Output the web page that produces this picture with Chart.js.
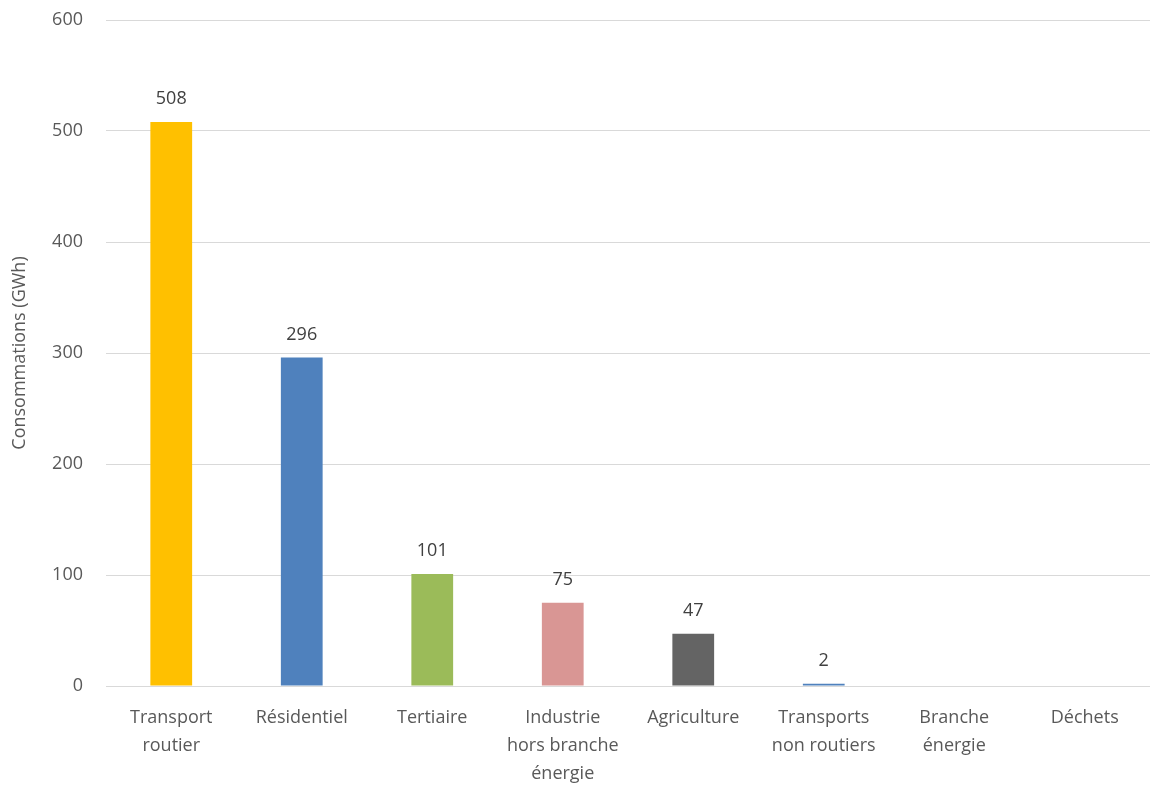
<!DOCTYPE html>
<html>
<head>
<meta charset="utf-8">
<script src="https://cdn.jsdelivr.net/npm/chart.js@4"></script>
<style>
  html, body { margin: 0; padding: 0; background: #fff; }
  #wrap { width: 1151px; height: 789px; position: relative; }
</style>
</head>
<body>
<div id="wrap"><canvas id="myChart"></canvas></div>
<script>
// secteurs et consommations
var categories = [
    ["Transport", "routier"],
    ["Résidentiel"],
    ["Tertiaire"],
    ["Industrie", "hors branche", "énergie"],
    ["Agriculture"],
    ["Transports", "non routiers"],
    ["Branche", "énergie"],
    ["Déchets"]
];
var consommations = [508, 296, 101, 75, 47, 2, 0, 0];
var couleurs = ["#FFC000", "#4F81BD", "#9BBB59", "#D99694", "#646464", "#4F81BD", "#A5A5A5", "#F79646"];
var yTicks = [0, 100, 200, 300, 400, 500, 600];

var police = "'Open Sans', 'Noto Sans', sans-serif";
var gris = "#595959";

// etiquettes de valeur au-dessus des barres
var valeurs = {
    id: 'valeurs',
    afterDatasetsDraw: function (chart) {
        var ctx = chart.ctx;
        var meta = chart.getDatasetMeta(0);
        ctx.save();
        ctx.font = "18px " + police;
        ctx.fillStyle = "#404040";
        ctx.textAlign = "center";
        ctx.textBaseline = "bottom";
        meta.data.forEach(function (bar, i) {
            var v = consommations[i];
            if (!v) return;
            ctx.fillText(String(v), bar.x, bar.y - 14);
        });
        ctx.restore();
    }
};

var ctx = document.getElementById('myChart').getContext('2d');
var myChart = new Chart(ctx, {
    type: 'bar',
    data: {
        labels: categories,
        datasets: [{
            label: 'Consommations',
            data: consommations,
            backgroundColor: couleurs,
            borderWidth: 0,
            categoryPercentage: 1,
            barPercentage: 0.32
        }]
    },
    plugins: [valeurs],
    options: {
        responsive: true,
        maintainAspectRatio: false,
        animation: false,
        layout: {
            padding: { top: 20, right: 1, bottom: 0, left: 0 }
        },
        scales: {
            x: {
                grid: { display: false, drawTicks: false },
                border: { display: false },
                ticks: {
                    color: gris,
                    font: { family: police, size: 18, lineHeight: 1.55 },
                    padding: 18,
                    maxRotation: 0,
                    autoSkip: false
                },
                afterFit: function (scale) { scale.height = 103; }
            },
            y: {
                min: 0,
                max: 600,
                afterBuildTicks: function (scale) {
                    scale.ticks = yTicks.map(function (v) { return { value: v }; });
                },
                grid: { color: "#D9D9D9", lineWidth: 1, drawTicks: false },
                border: { display: false },
                ticks: {
                    color: gris,
                    font: { family: police, size: 18 },
                    padding: 23
                },
                title: {
                    display: true,
                    text: 'Consommations (GWh)',
                    color: gris,
                    font: { family: police, size: 18 },
                    padding: { top: 9, bottom: 0 }
                },
                afterFit: function (scale) {
                    scale.width = 106;
                    scale.paddingTop = 0;
                    scale.paddingBottom = 0;
                }
            }
        },
        plugins: {
            legend: { display: false },
            tooltip: { enabled: false }
        }
    }
});
</script>
</body>
</html>
